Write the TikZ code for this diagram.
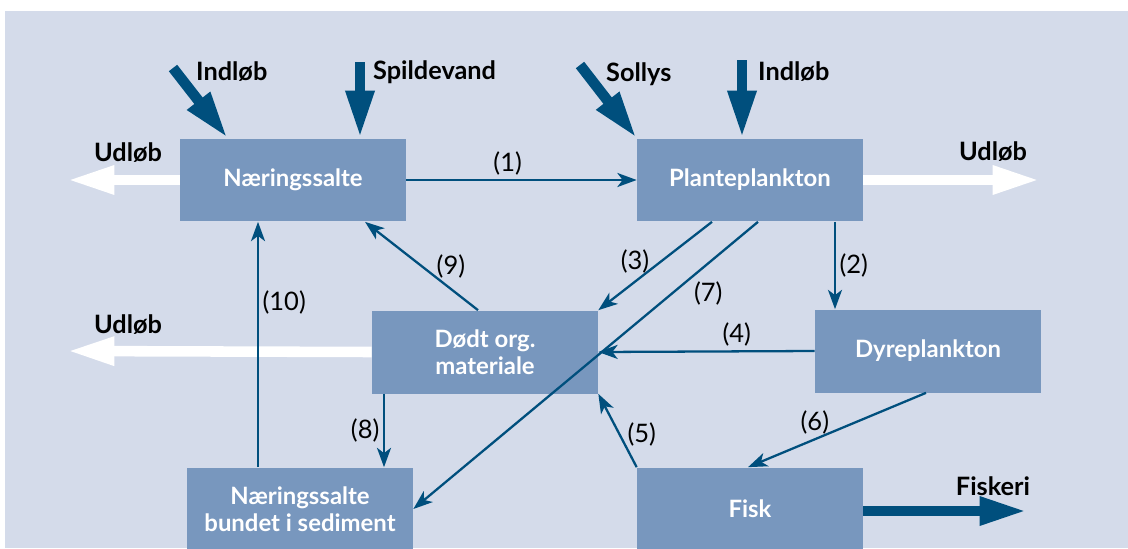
\documentclass[tikz,border=0pt]{standalone}
\usepackage{fontspec}
\setmainfont{Lato}
\usetikzlibrary{arrows.meta, calc}

\definecolor{bgblue}{HTML}{D4DBEA}
\definecolor{boxblue}{HTML}{7897BE}
\definecolor{darkblue}{HTML}{004F7D}

\tikzset{
	box/.style={fill=boxblue, text=white, font=\fontsize{13.6}{15.4}\bfseries, align=center,
		minimum width=4.52cm, minimum height=1.66cm, inner sep=0pt},
	flow/.style={darkblue, line width=1.3pt, -{Stealth[length=11pt, width=8pt, inset=3pt]}},
	inflow/.style={darkblue, line width=6pt, -{Triangle[length=27pt, width=15pt]}},
	outflow/.style={white, line width=6pt, -{Triangle[length=27pt, width=15pt]}},
	tag/.style={font=\fontsize{14.4}{17}\bfseries, text=black},
	num/.style={font=\fontsize{14.5}{17}\selectfont, text=black, inner sep=2pt}
}

\begin{document}
\begin{tikzpicture}[x=0.02cm, y=-0.02cm]
	\useasboundingbox (0,0) rectangle (1128,548);
	\fill [bgblue] (5,11) rectangle (1128,548);

	% boxes
	\node [box] (ns) at (293,180) {Næringssalte};
	\node [box] (pp) at (750,180) {Planteplankton};
	\node [box] (dom) at (485,352) {Dødt org.\\materiale};
	\node [box] (dp) at (928,351) {Dyreplankton};
	\node [box] (sed) at (300,509) {Næringssalte\\bundet i sediment};
	\node [box] (fisk) at (750,509) {Fisk};

	% free ends
	\coordinate (in1) at (173,68);
	\coordinate (spild) at (360,62);
	\coordinate (sol) at (580,65);
	\coordinate (in2) at (742,60);
	\coordinate (ud1) at (67,180);
	\coordinate (ud2) at (1040,180);
	\coordinate (ud3) at (67,351);
	\coordinate (fiskeri) at (1027,511);

	% in and out
	\draw [inflow] (in1) -- ($(ns.north west)+(48,0)$);
	\node [tag, anchor=west] at (190,72) {Indløb};
	\draw [inflow] (spild) -- ($(ns.north)+(67,0)$);
	\node [tag, anchor=west] at (367,72) {Spildevand};
	\draw [inflow] (sol) -- (pp.north west);
	\node [tag, anchor=west] at (600,74) {Sollys};
	\draw [inflow] (in2) -- ($(pp.north)+(-8,0)$);
	\node [tag, anchor=west] at (752,72) {Indløb};

	\draw [outflow] (ns.west) -- (ud1);
	\node [tag] at (128,153) {Udløb};
	\draw [outflow] (pp.east) -- (ud2);
	\node [tag] at (993,152) {Udløb};
	\draw [outflow] (dom.west) -- (ud3);
	\node [tag] at (128,325) {Udløb};
	\draw [inflow] ($(fisk.east)+(0,2)$) -- (fiskeri);
	\node [tag] at (993,486) {Fiskeri};

	% flows
	\draw [flow] (ns.east) -- (pp.west) node [num, pos=0.44, above] {(1)};
	\draw [flow] ($(pp.south)+(85,0)$) -- ($(dp.north)+(-93,0)$) node [num, midway, right] {(2)};
	\draw [flow] ($(pp.south)+(-38,0)$) -- (dom.north east) node [num, pos=0.45, left=4pt] {(3)};
	\draw [flow] (dp.west) -- (dom.east) node [num, pos=0.36, above] {(4)};
	\draw [flow] (fisk.north west) -- (dom.south east) node [num, pos=0.45, right=2pt] {(5)};
	\draw [flow] ($(dp.south)+(-2,0)$) -- ($(fisk.north)+(-2,0)$) node [num, pos=0.4, left=12pt] {(6)};
	\draw [flow] ($(pp.south)+(8,0)$) -- (sed.east) node [num, pos=0.25, right=10pt] {(7)};
	\draw [flow] ($(dom.south)+(-101,0)$) -- ($(sed.north)+(84,0)$) node [num, midway, left] {(8)};
	\draw [flow] ($(dom.north)+(-7,0)$) -- ($(ns.south)+(72,0)$) node [num, pos=0.5, right=6pt] {(9)};
	\draw [flow] ($(sed.north)+(-42,0)$) -- ($(ns.south)+(-35,0)$) node [num, pos=0.67, right] {(10)};

\end{tikzpicture}
\end{document}
